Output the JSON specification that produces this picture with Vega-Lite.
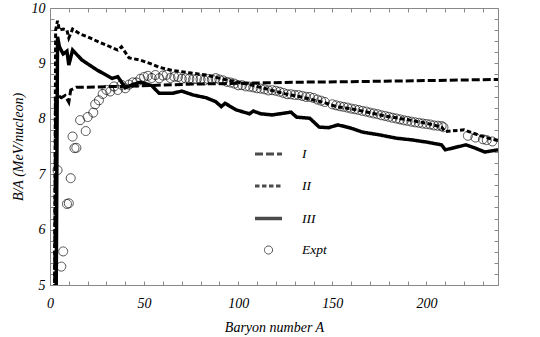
{
  "$schema": "https://vega.github.io/schema/vega-lite/v6.json",
  "width": 448,
  "height": 277,
  "autosize": {"type": "none"},
  "padding": {"left": 50, "top": 8, "right": 42, "bottom": 52},
  "config": {
    "view": {"stroke": "#888", "strokeWidth": 1},
    "font": "Liberation Serif",
    "axis": {"grid": false, "domain": false, "tickColor": "#888", "labelFont": "Liberation Serif", "labelFontStyle": "italic", "labelFontSize": 14, "labelColor": "black", "titleFont": "Liberation Serif", "titleFontStyle": "italic", "titleFontWeight": "normal", "titleFontSize": 14, "titleColor": "black", "labelFlush": false, "labelOverlap": false},
    "legend": {"orient": "none", "legendX": 203, "legendY": 131, "padding": 0, "symbolSize": 729, "labelOffset": 18, "rowPadding": 10, "labelFont": "Liberation Serif", "labelFontStyle": "italic", "labelFontSize": 13.5, "labelColor": "black", "symbolStrokeColor": "black", "symbolFillColor": "transparent"}
  },
  "data": {
    "values": [
      {"series": "I", "A": 2, "B": 1.5}, {"series": "I", "A": 3, "B": 8.52}, {"series": "I", "A": 4, "B": 8.43}, {"series": "I", "A": 6, "B": 8.38}, {"series": "I", "A": 8, "B": 8.42}, {"series": "I", "A": 10, "B": 8.3}, {"series": "I", "A": 11, "B": 8.52}, {"series": "I", "A": 14, "B": 8.57}, {"series": "I", "A": 20, "B": 8.57}, {"series": "I", "A": 30, "B": 8.58}, {"series": "I", "A": 45, "B": 8.59}, {"series": "I", "A": 60, "B": 8.61}, {"series": "I", "A": 80, "B": 8.63}, {"series": "I", "A": 100, "B": 8.64}, {"series": "I", "A": 130, "B": 8.66}, {"series": "I", "A": 160, "B": 8.67}, {"series": "I", "A": 200, "B": 8.69}, {"series": "I", "A": 238, "B": 8.71},

      {"series": "II", "A": 2, "B": 1.5}, {"series": "II", "A": 3, "B": 9.6}, {"series": "II", "A": 4, "B": 9.77}, {"series": "II", "A": 5, "B": 9.6}, {"series": "II", "A": 7, "B": 9.62}, {"series": "II", "A": 9, "B": 9.6}, {"series": "II", "A": 10, "B": 9.46}, {"series": "II", "A": 12, "B": 9.62}, {"series": "II", "A": 16, "B": 9.53}, {"series": "II", "A": 20, "B": 9.48}, {"series": "II", "A": 25, "B": 9.4}, {"series": "II", "A": 30, "B": 9.33}, {"series": "II", "A": 36, "B": 9.24}, {"series": "II", "A": 38, "B": 9.3}, {"series": "II", "A": 42, "B": 9.1}, {"series": "II", "A": 48, "B": 9.06}, {"series": "II", "A": 53, "B": 9.0}, {"series": "II", "A": 58, "B": 8.93}, {"series": "II", "A": 64, "B": 8.88}, {"series": "II", "A": 74, "B": 8.83}, {"series": "II", "A": 83, "B": 8.79}, {"series": "II", "A": 94, "B": 8.7}, {"series": "II", "A": 106, "B": 8.62}, {"series": "II", "A": 116, "B": 8.53}, {"series": "II", "A": 125, "B": 8.45}, {"series": "II", "A": 134, "B": 8.39}, {"series": "II", "A": 146, "B": 8.29}, {"series": "II", "A": 152, "B": 8.22}, {"series": "II", "A": 160, "B": 8.18}, {"series": "II", "A": 170, "B": 8.11}, {"series": "II", "A": 178, "B": 8.05}, {"series": "II", "A": 189, "B": 7.99}, {"series": "II", "A": 200, "B": 7.92}, {"series": "II", "A": 208, "B": 7.85}, {"series": "II", "A": 210, "B": 7.77}, {"series": "II", "A": 220, "B": 7.8}, {"series": "II", "A": 228, "B": 7.7}, {"series": "II", "A": 233, "B": 7.65}, {"series": "II", "A": 238, "B": 7.61},

      {"series": "III", "A": 2, "B": 1.5}, {"series": "III", "A": 3, "B": 3.0}, {"series": "III", "A": 4, "B": 9.48}, {"series": "III", "A": 5, "B": 9.3}, {"series": "III", "A": 7, "B": 9.17}, {"series": "III", "A": 9, "B": 9.22}, {"series": "III", "A": 10, "B": 8.97}, {"series": "III", "A": 12, "B": 9.24}, {"series": "III", "A": 17, "B": 9.06}, {"series": "III", "A": 25, "B": 8.88}, {"series": "III", "A": 33, "B": 8.73}, {"series": "III", "A": 36, "B": 8.76}, {"series": "III", "A": 40, "B": 8.56}, {"series": "III", "A": 44, "B": 8.62}, {"series": "III", "A": 48, "B": 8.66}, {"series": "III", "A": 54, "B": 8.6}, {"series": "III", "A": 58, "B": 8.46}, {"series": "III", "A": 65, "B": 8.46}, {"series": "III", "A": 70, "B": 8.5}, {"series": "III", "A": 76, "B": 8.43}, {"series": "III", "A": 83, "B": 8.38}, {"series": "III", "A": 88, "B": 8.31}, {"series": "III", "A": 91, "B": 8.22}, {"series": "III", "A": 93, "B": 8.28}, {"series": "III", "A": 99, "B": 8.16}, {"series": "III", "A": 106, "B": 8.09}, {"series": "III", "A": 108, "B": 8.14}, {"series": "III", "A": 112, "B": 8.09}, {"series": "III", "A": 118, "B": 8.07}, {"series": "III", "A": 128, "B": 8.12}, {"series": "III", "A": 131, "B": 8.03}, {"series": "III", "A": 138, "B": 8.01}, {"series": "III", "A": 143, "B": 7.85}, {"series": "III", "A": 148, "B": 7.84}, {"series": "III", "A": 153, "B": 7.89}, {"series": "III", "A": 160, "B": 7.83}, {"series": "III", "A": 166, "B": 7.76}, {"series": "III", "A": 175, "B": 7.71}, {"series": "III", "A": 184, "B": 7.65}, {"series": "III", "A": 192, "B": 7.62}, {"series": "III", "A": 200, "B": 7.58}, {"series": "III", "A": 208, "B": 7.53}, {"series": "III", "A": 210, "B": 7.44}, {"series": "III", "A": 221, "B": 7.53}, {"series": "III", "A": 226, "B": 7.47}, {"series": "III", "A": 231, "B": 7.4}, {"series": "III", "A": 238, "B": 7.44},

      {"series": "Expt", "A": 4, "B": 7.074}, {"series": "Expt", "A": 6, "B": 5.332}, {"series": "Expt", "A": 7, "B": 5.606}, {"series": "Expt", "A": 9, "B": 6.463}, {"series": "Expt", "A": 10, "B": 6.475}, {"series": "Expt", "A": 11, "B": 6.928}, {"series": "Expt", "A": 12, "B": 7.68}, {"series": "Expt", "A": 13, "B": 7.47}, {"series": "Expt", "A": 14, "B": 7.476}, {"series": "Expt", "A": 16, "B": 7.976}, {"series": "Expt", "A": 19, "B": 7.779}, {"series": "Expt", "A": 20, "B": 8.032}, {"series": "Expt", "A": 23, "B": 8.112}, {"series": "Expt", "A": 24, "B": 8.261}, {"series": "Expt", "A": 26, "B": 8.334}, {"series": "Expt", "A": 28, "B": 8.448}, {"series": "Expt", "A": 30, "B": 8.521}, {"series": "Expt", "A": 32, "B": 8.493}, {"series": "Expt", "A": 34, "B": 8.584}, {"series": "Expt", "A": 36, "B": 8.52}, {"series": "Expt", "A": 38, "B": 8.614}, {"series": "Expt", "A": 40, "B": 8.551}, {"series": "Expt", "A": 42, "B": 8.617}, {"series": "Expt", "A": 44, "B": 8.658}, {"series": "Expt", "A": 46, "B": 8.656}, {"series": "Expt", "A": 48, "B": 8.723}, {"series": "Expt", "A": 50, "B": 8.756}, {"series": "Expt", "A": 52, "B": 8.776}, {"series": "Expt", "A": 54, "B": 8.736}, {"series": "Expt", "A": 56, "B": 8.79}, {"series": "Expt", "A": 58, "B": 8.732}, {"series": "Expt", "A": 60, "B": 8.781}, {"series": "Expt", "A": 62, "B": 8.795}, {"series": "Expt", "A": 64, "B": 8.736}, {"series": "Expt", "A": 66, "B": 8.76}, {"series": "Expt", "A": 68, "B": 8.756}, {"series": "Expt", "A": 70, "B": 8.722}, {"series": "Expt", "A": 72, "B": 8.732}, {"series": "Expt", "A": 74, "B": 8.725}, {"series": "Expt", "A": 76, "B": 8.711}, {"series": "Expt", "A": 78, "B": 8.718}, {"series": "Expt", "A": 80, "B": 8.711}, {"series": "Expt", "A": 82, "B": 8.693}, {"series": "Expt", "A": 84, "B": 8.717}, {"series": "Expt", "A": 86, "B": 8.712}, {"series": "Expt", "A": 88, "B": 8.733}, {"series": "Expt", "A": 90, "B": 8.71}, {"series": "Expt", "A": 92, "B": 8.693}, {"series": "Expt", "A": 94, "B": 8.667}, {"series": "Expt", "A": 96, "B": 8.654}, {"series": "Expt", "A": 98, "B": 8.635}, {"series": "Expt", "A": 100, "B": 8.605}, {"series": "Expt", "A": 102, "B": 8.607}, {"series": "Expt", "A": 104, "B": 8.585}, {"series": "Expt", "A": 106, "B": 8.58}, {"series": "Expt", "A": 108, "B": 8.567}, {"series": "Expt", "A": 110, "B": 8.551}, {"series": "Expt", "A": 112, "B": 8.545}, {"series": "Expt", "A": 114, "B": 8.532}, {"series": "Expt", "A": 116, "B": 8.512}, {"series": "Expt", "A": 118, "B": 8.517}, {"series": "Expt", "A": 120, "B": 8.505}, {"series": "Expt", "A": 122, "B": 8.488}, {"series": "Expt", "A": 124, "B": 8.467}, {"series": "Expt", "A": 126, "B": 8.444}, {"series": "Expt", "A": 128, "B": 8.443}, {"series": "Expt", "A": 130, "B": 8.43}, {"series": "Expt", "A": 132, "B": 8.428}, {"series": "Expt", "A": 134, "B": 8.414}, {"series": "Expt", "A": 136, "B": 8.396}, {"series": "Expt", "A": 138, "B": 8.394}, {"series": "Expt", "A": 140, "B": 8.376}, {"series": "Expt", "A": 142, "B": 8.347}, {"series": "Expt", "A": 144, "B": 8.327}, {"series": "Expt", "A": 146, "B": 8.304}, {"series": "Expt", "A": 150, "B": 8.262}, {"series": "Expt", "A": 152, "B": 8.244}, {"series": "Expt", "A": 154, "B": 8.227}, {"series": "Expt", "A": 156, "B": 8.215}, {"series": "Expt", "A": 158, "B": 8.202}, {"series": "Expt", "A": 160, "B": 8.184}, {"series": "Expt", "A": 162, "B": 8.173}, {"series": "Expt", "A": 164, "B": 8.159}, {"series": "Expt", "A": 166, "B": 8.142}, {"series": "Expt", "A": 168, "B": 8.13}, {"series": "Expt", "A": 170, "B": 8.112}, {"series": "Expt", "A": 172, "B": 8.097}, {"series": "Expt", "A": 174, "B": 8.084}, {"series": "Expt", "A": 176, "B": 8.064}, {"series": "Expt", "A": 178, "B": 8.052}, {"series": "Expt", "A": 180, "B": 8.035}, {"series": "Expt", "A": 182, "B": 8.018}, {"series": "Expt", "A": 184, "B": 8.005}, {"series": "Expt", "A": 186, "B": 7.989}, {"series": "Expt", "A": 188, "B": 7.973}, {"series": "Expt", "A": 190, "B": 7.962}, {"series": "Expt", "A": 192, "B": 7.948}, {"series": "Expt", "A": 194, "B": 7.936}, {"series": "Expt", "A": 196, "B": 7.927}, {"series": "Expt", "A": 198, "B": 7.914}, {"series": "Expt", "A": 200, "B": 7.906}, {"series": "Expt", "A": 202, "B": 7.897}, {"series": "Expt", "A": 204, "B": 7.88}, {"series": "Expt", "A": 206, "B": 7.875}, {"series": "Expt", "A": 208, "B": 7.868}, {"series": "Expt", "A": 209, "B": 7.848}, {"series": "Expt", "A": 222, "B": 7.694}, {"series": "Expt", "A": 226, "B": 7.662}, {"series": "Expt", "A": 230, "B": 7.631}, {"series": "Expt", "A": 232, "B": 7.615}, {"series": "Expt", "A": 235, "B": 7.591}
    ]
  },
  "resolve": {"axis": {"x": "independent", "y": "independent"}},
  "layer": [
    {
      "transform": [{"filter": "datum.series !== 'Expt'"}],
      "mark": {"type": "line", "color": "black", "clip": true, "strokeCap": "butt", "strokeJoin": "miter"},
      "encoding": {
        "x": {"field": "A", "type": "quantitative", "scale": {"domain": [0, 238], "nice": false, "zero": false},
          "axis": {"orient": "bottom", "title": "Baryon number A", "values": [0,10,20,30,40,50,60,70,80,90,100,110,120,130,140,150,160,170,180,190,200,210,220,230], "labelExpr": "datum.value % 50 === 0 ? format(datum.value, 'd') : ''", "tickSize": -4, "labelPadding": 15, "titlePadding": 10}},
        "y": {"field": "B", "type": "quantitative", "scale": {"domain": [5, 10], "nice": false, "zero": false},
          "axis": {"orient": "left", "title": "B/A (MeV/nucleon)", "values": [5,5.2,5.4,5.6,5.8,6,6.2,6.4,6.6,6.8,7,7.2,7.4,7.6,7.8,8,8.2,8.4,8.6,8.8,9,9.2,9.4,9.6,9.8,10], "labelExpr": "datum.value % 1 === 0 ? format(datum.value, 'd') : ''", "tickSize": -4, "labelPadding": 9, "titlePadding": 6}},
        "detail": {"field": "series"},
        "order": {"field": "A", "type": "quantitative"},
        "strokeDash": {"field": "series", "type": "nominal", "scale": {"domain": ["I", "II", "III", "Expt"], "range": [[8, 3], [4.5, 2.5], [1, 0], [1, 0]]}, "legend": {"title": null}},
        "strokeWidth": {"field": "series", "type": "nominal", "scale": {"type": "ordinal", "domain": ["I", "II", "III", "Expt"], "range": [3, 3, 3.5, 1]}, "legend": {"title": null}}
      }
    },
    {
      "transform": [{"filter": "datum.series === 'Expt'"}],
      "mark": {"type": "point", "color": "black", "filled": false, "clip": true, "size": 900},
      "encoding": {
        "x": {"field": "A", "type": "quantitative", "scale": {"domain": [0, 238], "nice": false, "zero": false},
          "axis": {"orient": "top", "title": null, "values": [0,10,20,30,40,50,60,70,80,90,100,110,120,130,140,150,160,170,180,190,200,210,220,230], "labels": false, "tickSize": -4}},
        "y": {"field": "B", "type": "quantitative", "scale": {"domain": [5, 10], "nice": false, "zero": false},
          "axis": {"orient": "right", "title": null, "values": [5,5.2,5.4,5.6,5.8,6,6.2,6.4,6.6,6.8,7,7.2,7.4,7.6,7.8,8,8.2,8.4,8.6,8.8,9,9.2,9.4,9.6,9.8,10], "labels": false, "tickSize": -4}},
        "shape": {"field": "series", "type": "nominal", "scale": {"domain": ["I", "II", "III", "Expt"], "range": ["stroke", "stroke", "stroke", "M0.3,0A0.3,0.3,0,1,1,-0.3,0A0.3,0.3,0,1,1,0.3,0Z"]}, "legend": {"title": null}},
        "strokeDash": {"field": "series", "type": "nominal", "scale": {"domain": ["I", "II", "III", "Expt"], "range": [[8, 3], [4.5, 2.5], [1, 0], [1, 0]]}, "legend": {"title": null}},
        "strokeWidth": {"field": "series", "type": "nominal", "scale": {"type": "ordinal", "domain": ["I", "II", "III", "Expt"], "range": [3, 3, 3.5, 1]}, "legend": {"title": null}}
      }
    }
  ]
}
